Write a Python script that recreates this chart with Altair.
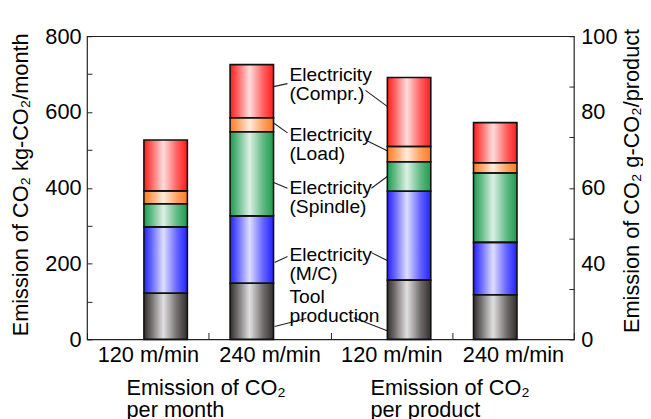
import altair as alt
import pandas as pd

FONT = "Liberation Sans"

# ---- data ----
components = ["Tool production", "Electricity (M/C)", "Electricity (Spindle)",
              "Electricity (Load)", "Electricity (Compr.)"]
bar_basis = ["month", "month", "product", "product"]
bar_speed = ["120 m/min", "240 m/min", "120 m/min", "240 m/min"]
month_120 = [122, 175, 61, 34, 134]          # kg-CO2/month
month_240 = [148, 178, 222, 37, 140]         # kg-CO2/month
product_120 = [31.3, 27.8, 7.8, 4.0, 18.2]   # g-CO2/product
product_240 = [23.6, 22.0, 18.3, 2.7, 10.6]  # g-CO2/product

ann_labels = ["Electricity\n(Compr.)", "Electricity\n(Load)", "Electricity\n(Spindle)",
              "Electricity\n(M/C)", "Tool\nproduction"]
ann_y = [697, 539, 400, 223, 113]
lead_l_y1 = [667, 571, 414, 203, 34]
lead_l_y2 = [675, 545, 399, 219, 55]
lead_r_y1 = [657, 526, 399, 229, 57]
lead_r_y2 = [615, 498, 430, 208, 23]

group_labels = ["Emission of CO\u2082\nper month", "Emission of CO\u2082\nper product"]

# ---- styling ----
edge_colors = ["#332e2e", "#2222ff", "#1c9c4e", "#ff7a20", "#ff1c1c"]
W, H = 493, 307
BAR_W = 44

rows = []
for basis, speed, vals in zip(bar_basis, bar_speed, [month_120, month_240, product_120, product_240]):
    for j, (comp, v) in enumerate(zip(components, vals)):
        rows.append({"bar": f"{basis}|{speed}", "basis": basis, "speed": speed,
                     "component": comp, "idx": j, "value": v})
df = pd.DataFrame(rows)
bar_keys = [f"{b}|{s}" for b, s in zip(bar_basis, bar_speed)]

x_axis = alt.Axis(title=None, labelExpr="split(datum.label, '|')[1]", labelFontSize=22,
                  labelAngle=0, labelPadding=5, tickBand="extent", tickSize=7, offset=-7,
                  domain=False, tickWidth=1)
x_enc = alt.X("bar:N", scale=alt.Scale(domain=bar_keys, paddingInner=0, paddingOuter=0), axis=x_axis)

left_scale = alt.Scale(domain=[0, 800], nice=False, zero=True)
left_axis = alt.Axis(values=list(range(0, 801, 100)),
                     labelExpr="datum.value % 200 == 0 ? datum.label : ''",
                     labelOverlap=False, labelFontSize=22, labelPadding=6,
                     tickSize=5, offset=-5, domain=False,
                     title="Emission of CO\u2082  kg-CO\u2082/month", titleFontSize=22,
                     titleFontWeight="normal", titleAngle=270, titleAlign="center",
                     titleBaseline="middle", titleX=-72, titleY=150)

right_scale = alt.Scale(domain=[0, 40, 100], range=[H, H * 0.75, 0], nice=False)
right_axis = alt.Axis(orient="right", values=[0, 26.67, 40, 46.67, 60, 73.33, 80, 86.67, 100],
                      labelExpr="indexof([0, 40, 60, 80, 100], datum.value) >= 0 ? datum.label : ''",
                      tickOpacity={"condition": {"test": "datum.value == 40 || datum.value == 80", "value": 0}, "value": 1},
                      labelOverlap=False, labelFontSize=22, labelPadding=7,
                      tickSize=5, offset=-5, domain=False,
                      title="Emission of CO\u2082  g-CO\u2082/product", titleFontSize=22,
                      titleFontWeight="normal", titleAngle=270, titleAlign="center",
                      titleBaseline="middle", titleX=63, titleY=146)

shade = alt.LinearGradient(
    gradient="linear", x1=0, x2=1, y1=0, y2=0,
    stops=[alt.GradientStop(color="rgba(255,255,255,0)", offset=0),
           alt.GradientStop(color="rgba(255,255,255,0.3)", offset=0.17),
           alt.GradientStop(color="rgba(255,255,255,0.85)", offset=0.45),
           alt.GradientStop(color="rgba(255,255,255,0.3)", offset=0.76),
           alt.GradientStop(color="rgba(255,255,255,0)", offset=1)])


def bar_layers(basis, speed, y_scale, y_axis, offset):
    base = alt.Chart(df).transform_filter(
        f"datum.basis == '{basis}' && datum.speed == '{speed}'")
    y = alt.Y("value:Q", stack="zero", scale=y_scale, axis=y_axis)
    fill = base.mark_bar(width=BAR_W, xOffset=offset, strokeWidth=0).encode(
        x=x_enc, y=y,
        color=alt.Color("component:N", scale=alt.Scale(domain=components, range=edge_colors), legend=None),
        order=alt.Order("idx:Q"))
    gloss = base.mark_bar(width=BAR_W, xOffset=offset, fill=shade, strokeWidth=0).encode(
        x=x_enc, y=alt.Y("sum(value):Q", scale=y_scale, axis=y_axis))
    outline = base.mark_bar(width=BAR_W, xOffset=offset, fillOpacity=0, stroke="#111",
                            strokeWidth=1.6).encode(
        x=x_enc, y=y, detail="component:N", order=alt.Order("idx:Q"))
    return [fill, gloss, outline]


left_layers = (bar_layers("month", "120 m/min", left_scale, left_axis, 18)
               + bar_layers("month", "240 m/min", left_scale, left_axis, -18))
right_layers = (bar_layers("product", "120 m/min", right_scale, right_axis, 18)
                + bar_layers("product", "240 m/min", right_scale, right_axis, -18))

# annotations (anchored on the left scale)
ann_df = pd.DataFrame({"label": ann_labels, "y": ann_y})
ann_text = alt.Chart(ann_df).mark_text(
    align="left", baseline="middle", fontSize=19.5, lineHeight=19.5, lineBreak="\n",
    font=FONT, color="black").encode(
    x=alt.value(205), y=alt.Y("y:Q", scale=left_scale, axis=left_axis), text="label:N")

lead_df = pd.DataFrame({
    "y1": lead_l_y1 + lead_r_y1, "y2": lead_l_y2 + lead_r_y2,
    "px1": [189, 189, 189, 190, 190, 282, 282, 288, 288, 270],
    "px2": [203, 203, 203, 203, 222, 304, 304, 304, 304, 304]})
leaders = alt.Chart(lead_df).mark_rule(color="#222", strokeWidth=1.1).encode(
    x=alt.X("px1:Q", scale=None, axis=None), x2="px2:Q",
    y=alt.Y("y1:Q", scale=left_scale, axis=left_axis), y2="y2:Q")

grp_df = pd.DataFrame({"label": group_labels})
grp_month = alt.Chart(grp_df).transform_filter(f"datum.label == '{group_labels[0]}'".replace("\n", "\\n")).mark_text(
    align="left", baseline="top", fontSize=22, lineHeight=23, lineBreak="\n", font=FONT,
    color="black").encode(x=alt.value(40), y=alt.value(346), text="label:N")
grp_product = alt.Chart(grp_df).transform_filter(f"datum.label == '{group_labels[1]}'".replace("\n", "\\n")).mark_text(
    align="left", baseline="top", fontSize=22, lineHeight=23, lineBreak="\n", font=FONT,
    color="black").encode(x=alt.value(287), y=alt.value(346), text="label:N")

left_group = alt.layer(*left_layers, leaders, ann_text, grp_month, grp_product)
right_group = alt.layer(*right_layers)

chart = alt.layer(left_group, right_group).resolve_scale(y="independent").properties(
    width=W, height=H,
    autosize=alt.AutoSizeParams(type="none"),
    padding={"left": 80, "top": 26, "right": 70, "bottom": 78},
).configure_view(stroke="#222", strokeWidth=1.2).configure_axis(
    grid=False, labelFont=FONT, titleFont=FONT, labelColor="black", titleColor="black",
    tickColor="#222")

chart.save("out.html", embed_options={"renderer": "svg", "actions": False})
